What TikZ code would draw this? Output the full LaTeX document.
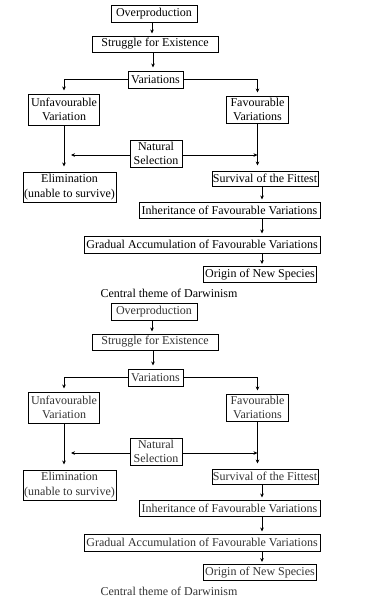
\documentclass[tikz,border=0pt]{standalone}
\usepackage{fontspec}
\setmainfont{Liberation Serif}
\usetikzlibrary{arrows.meta}
\tikzset{
  box/.style={draw, line width=1pt, inner sep=0pt, align=center, font=\fontsize{12}{14.5}\selectfont},
  arr/.style={line width=0.9pt, -{Stealth[length=4pt,width=3.6pt]}},
}
\newcommand\darwin[3]{%
\begin{scope}[yshift=#2, text=#3]
  \node[box, minimum width=86pt, minimum height=17pt] (#1ov) at (154,13.5) {Overproduction};
  \node[box, minimum width=126pt, minimum height=16pt] (#1st) at (155,44) {Struggle for Existence};
  \node[box, minimum width=55pt, minimum height=17pt] (#1var) at (155.5,79.5) {Variations};
  \node[box, minimum width=71pt, minimum height=31pt] (#1unf) at (64,109.5) {Unfavourable\\Variation};
  \node[box, minimum width=62pt, minimum height=27pt] (#1fav) at (257.5,109.5) {Favourable\\Variations};
  \node[box, minimum width=52pt, minimum height=27pt] (#1ns) at (156,153.5) {Natural\\Selection};
  \node[box, minimum width=93pt, minimum height=30pt] (#1elim) at (69.5,187) {Elimination\\(unable to survive)};
  \node[box, minimum width=106pt, minimum height=15pt] (#1surv) at (265,178.5) {Survival of the Fittest};
  \node[box, minimum width=181pt, minimum height=16pt] (#1inh) at (229.5,210) {Inheritance of Favourable Variations};
  \node[box, minimum width=236pt, minimum height=17pt] (#1grad) at (202,244.5) {Gradual Accumulation of Favourable Variations};
  \node[box, minimum width=113pt, minimum height=16pt] (#1orig) at (260,274.5) {Origin of New Species};
  \node[font=\fontsize{12}{14.5}\selectfont, inner sep=0pt] (#1cap) at (169,293) {Central theme of Darwinism};
  \coordinate (#1col) at (262,0);
  \coordinate (#1nsl) at (71,155);
  \draw[arr, shorten >=2pt] (#1ov.south -| 152,0) -- (#1st.north -| 152,0);
  \draw[arr, shorten >=3pt] (#1st.south -| 153,0) -- (#1var.north -| 153,0);
  \draw[arr, shorten >=3pt] (#1var.west) -| (#1unf.north);
  \draw[arr, shorten >=3pt] (#1var.east) -| (#1fav.north);
  \draw[arr, shorten >=5pt] (#1unf.south) -- (#1unf.south |- #1elim.north);
  \draw[arr, shorten >=5pt] (#1fav.south) -- (#1fav.south |- #1surv.north);
  \draw[arr] (#1ns.west |- #1nsl) -- (#1nsl);
  \draw[arr] (#1ns.east |- #1nsl) -- (#1nsl -| #1fav.south);
  \draw[arr, shorten >=2pt] (#1surv.south -| #1col) -- (#1inh.north -| #1col);
  \draw[arr, shorten >=2pt] (#1inh.south -| #1col) -- (#1grad.north -| #1col);
  \draw[arr, shorten >=2pt] (#1grad.south -| #1col) -- (#1orig.north -| #1col);
\end{scope}}
\begin{document}
\begin{tikzpicture}[x=1pt, y=-1pt]
  \useasboundingbox[fill=white] (0,0) rectangle (373,603);
  \darwin{a}{0pt}{black}
  \darwin{b}{-298pt}{black!80}
\end{tikzpicture}
\end{document}
